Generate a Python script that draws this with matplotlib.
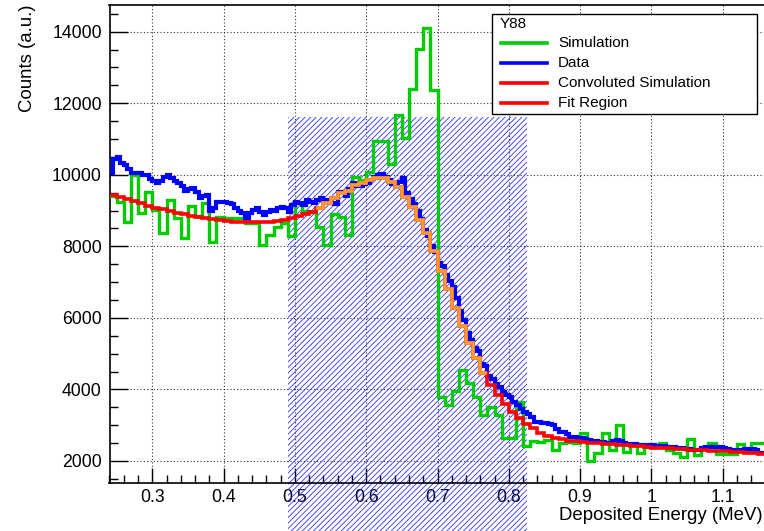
import numpy as np
import matplotlib
matplotlib.use("Agg")
import matplotlib.pyplot as plt
from matplotlib.patches import Rectangle
from matplotlib.lines import Line2D
from matplotlib.ticker import FixedLocator, MultipleLocator

plt.rcParams["font.family"] = ["Liberation Sans", "DejaVu Sans"]
plt.rcParams["hatch.linewidth"] = 0.6

# --- data ---
sim_start = 0.24
sim_width = 0.01
data_start = 0.24
data_width = 0.005

# Simulation, 0.01 MeV bins from 0.24 MeV
simulation = [
    9400, 9250, 8690, 10000, 8920, 9530, 9020, 8370, 9300, 8780,
    8230, 9130, 8860, 9200, 8130, 8830, 8800, 8780, 8780, 8650,
    8650, 8040, 8320, 8550, 8640, 8290, 9220, 8980, 8950, 8550,
    8040, 8910, 8830, 8320, 9950, 9850, 10090, 10950, 10950, 10300,
    11670, 11020, 12390, 13510, 14110, 12370, 3800, 3570, 3950, 4540,
    4170, 3800, 3290, 3520, 3290, 2650, 2650, 3640, 2420, 2560,
    2540, 2590, 2310, 2510, 2520, 2500, 2775, 2000, 2220, 2775,
    2310, 3010, 2260, 2450, 2220, 2400, 2400, 2500, 2310, 2220,
    2100, 2610, 2170, 2360, 2510, 2200, 2200, 2200, 2480, 2260,
    2500, 2500,
]

# Convoluted simulation, same binning
convoluted = [
    9440, 9380, 9320, 9260, 9200, 9140, 9080, 9030, 8980, 8930,
    8890, 8850, 8810, 8780, 8750, 8730, 8710, 8690, 8680, 8670,
    8670, 8680, 8690, 8710, 8740, 8790, 8840, 8900, 8970, 9060,
    9200, 9340, 9480, 9560, 9710, 9780, 9850, 9900, 9900, 9810,
    9660, 9390, 9100, 8740, 8370, 7870, 7320, 6800, 6270, 5770,
    5290, 4870, 4470, 4120, 3850, 3590, 3380, 3200, 3040, 2920,
    2790, 2690, 2640, 2600, 2570, 2550, 2530, 2510, 2495, 2480,
    2465, 2450, 2435, 2420, 2405, 2390, 2375, 2365, 2355, 2345,
    2335, 2320, 2310, 2300, 2290, 2280, 2265, 2250, 2240, 2225,
    2210, 2195,
]

# Data, 0.005 MeV bins from 0.24 MeV
data_counts = [
    10050, 10450, 10500, 10320, 10280, 10150, 10050, 10060, 10040, 10000,
    9980, 9880, 9830, 9770, 9820, 9930, 9990, 9900, 9830, 9780,
    9700, 9540, 9600, 9640, 9520, 9360, 9400, 9430, 9000, 9080,
    9250, 9240, 9250, 9220, 9170, 9080, 9000, 8930, 8720, 8920,
    9010, 9060, 8970, 8880, 8960, 9020, 8990, 9070, 9100, 9060,
    8950, 9150, 9250, 9200, 9160, 9300, 9250, 9210, 9300, 9340,
    9280, 9300, 9220, 9170, 9530, 9520, 9420, 9600, 9780, 9680,
    9700, 9730, 9780, 9850, 9950, 9990, 10030, 9930, 9850, 9730,
    9700, 9790, 9900, 9480, 9330, 9180, 8990, 8760, 8460, 8280,
    8000, 7850, 7530, 7440, 7200, 7030, 6850, 6560, 6200, 5940,
    5580, 5380, 5150, 5080, 4720, 4650, 4380, 4300, 4140, 4070,
    3920, 3850, 3780, 3640, 3560, 3460, 3380, 3300, 3220, 3100,
    3080, 3050, 3060, 3030, 3010, 2900, 2800, 2820, 2750, 2680,
    2670, 2650, 2630, 2610, 2590, 2570, 2560, 2540, 2520, 2510,
    2500, 2550, 2590, 2560, 2500, 2480, 2470, 2480, 2460, 2440,
    2450, 2460, 2440, 2430, 2410, 2420, 2400, 2400, 2390, 2370,
    2360, 2340, 2330, 2320, 2310, 2320, 2370, 2400, 2400, 2390,
    2400, 2380, 2360, 2340, 2310, 2300, 2290, 2310, 2330, 2340,
    2330, 2300, 2230, 2210,
]

fit_range = (0.49, 0.825)
fit_box_top = 11620
orange_range = (0.53, 0.77)

x_ticks = [0.3, 0.4, 0.5, 0.6, 0.7, 0.8, 0.9, 1.0, 1.1]
x_tick_labels = ["0.3", "0.4", "0.5", "0.6", "0.7", "0.8", "0.9", "1", "1.1"]
y_ticks = [2000, 4000, 6000, 8000, 10000, 12000, 14000]

legend_title = "Y88"
legend_labels = ["Simulation", "Data", "Convoluted Simulation", "Fit Region"]
legend_colors = ["#00cc00", "#0000ff", "#ff0000", "#ff0000"]

# --- figure ---
W, H = 764, 531
fig = plt.figure(figsize=(W / 100, H / 100), dpi=100)
x0, x1 = 109.5, 765.5
y0, y1 = 5, 483
ax = fig.add_axes([x0 / W, 1 - y1 / H, (x1 - x0) / W, (y1 - y0) / H])

sim_edges = sim_start + sim_width * np.arange(len(simulation) + 1)
data_edges = data_start + data_width * np.arange(len(data_counts) + 1)

# hatched fit region (extends below the frame)
ax.add_patch(Rectangle((fit_range[0], 0), fit_range[1] - fit_range[0], fit_box_top,
                       facecolor="none", edgecolor="#3030ff", lw=0, hatch="//////",
                       clip_on=False, zorder=1))

ax.stairs(simulation, sim_edges, baseline=None, color="#00cc00", lw=2.4, zorder=3)
ax.stairs(data_counts, data_edges, baseline=None, color="#0000ff", lw=3.0, zorder=4)
ax.stairs(convoluted, sim_edges, baseline=None, color="#ff0000", lw=2.6, zorder=5)
i0 = int(round((orange_range[0] - sim_start) / sim_width))
i1 = int(round((orange_range[1] - sim_start) / sim_width))
ax.stairs(convoluted[i0:i1], sim_edges[i0:i1 + 1], baseline=None,
          color="#ff9933", lw=2.6, zorder=6)

ax.set_xlim(0.24, 1.16)
ax.set_ylim(1384, 14746)

ax.xaxis.set_major_locator(FixedLocator(x_ticks))
ax.set_xticklabels(x_tick_labels)
ax.xaxis.set_minor_locator(MultipleLocator(0.02))
ax.yaxis.set_major_locator(FixedLocator(y_ticks))
ax.yaxis.set_minor_locator(MultipleLocator(500))

ax.tick_params(which="both", direction="in", labelsize=12.7, colors="black", width=1)
ax.tick_params(axis="y", which="major", length=13, pad=5.5)
ax.tick_params(axis="y", which="minor", length=6)
ax.tick_params(axis="x", which="major", length=11, pad=4)
ax.tick_params(axis="x", which="minor", length=5.5)

ax.grid(True, which="major", linestyle=(0, (1, 2)), color="black", lw=0.8, alpha=0.8)
ax.set_axisbelow(True)
for s in ax.spines.values():
    s.set_linewidth(1.2)

fig.text(763 / W, 1 - 516 / H, "Deposited Energy (MeV)", ha="right", va="center", fontsize=13.4)
fig.text(28 / W, 1 - 5 / H, "Counts (a.u.)", rotation=90, ha="center", va="top", fontsize=13.4)

# legend box
lx0, lx1, ly0, ly1 = 492, 757, 14, 114
fig.patches.append(Rectangle((lx0 / W, 1 - ly1 / H), (lx1 - lx0) / W, (ly1 - ly0) / H,
                             transform=fig.transFigure, facecolor="white",
                             edgecolor="black", lw=1.0, zorder=10))
fig.text(500 / W, 1 - 24 / H, legend_title, ha="left", va="center", fontsize=11, zorder=11)
for k, (lab, col) in enumerate(zip(legend_labels, legend_colors)):
    yy = 1 - (43 + 20 * k) / H
    fig.lines.append(Line2D([501 / W, 547 / W], [yy, yy], transform=fig.transFigure,
                            color=col, lw=2.6, zorder=11))
    fig.text(558 / W, yy, lab, ha="left", va="center", fontsize=11, zorder=11)

fig.savefig("out.png", dpi=100)
